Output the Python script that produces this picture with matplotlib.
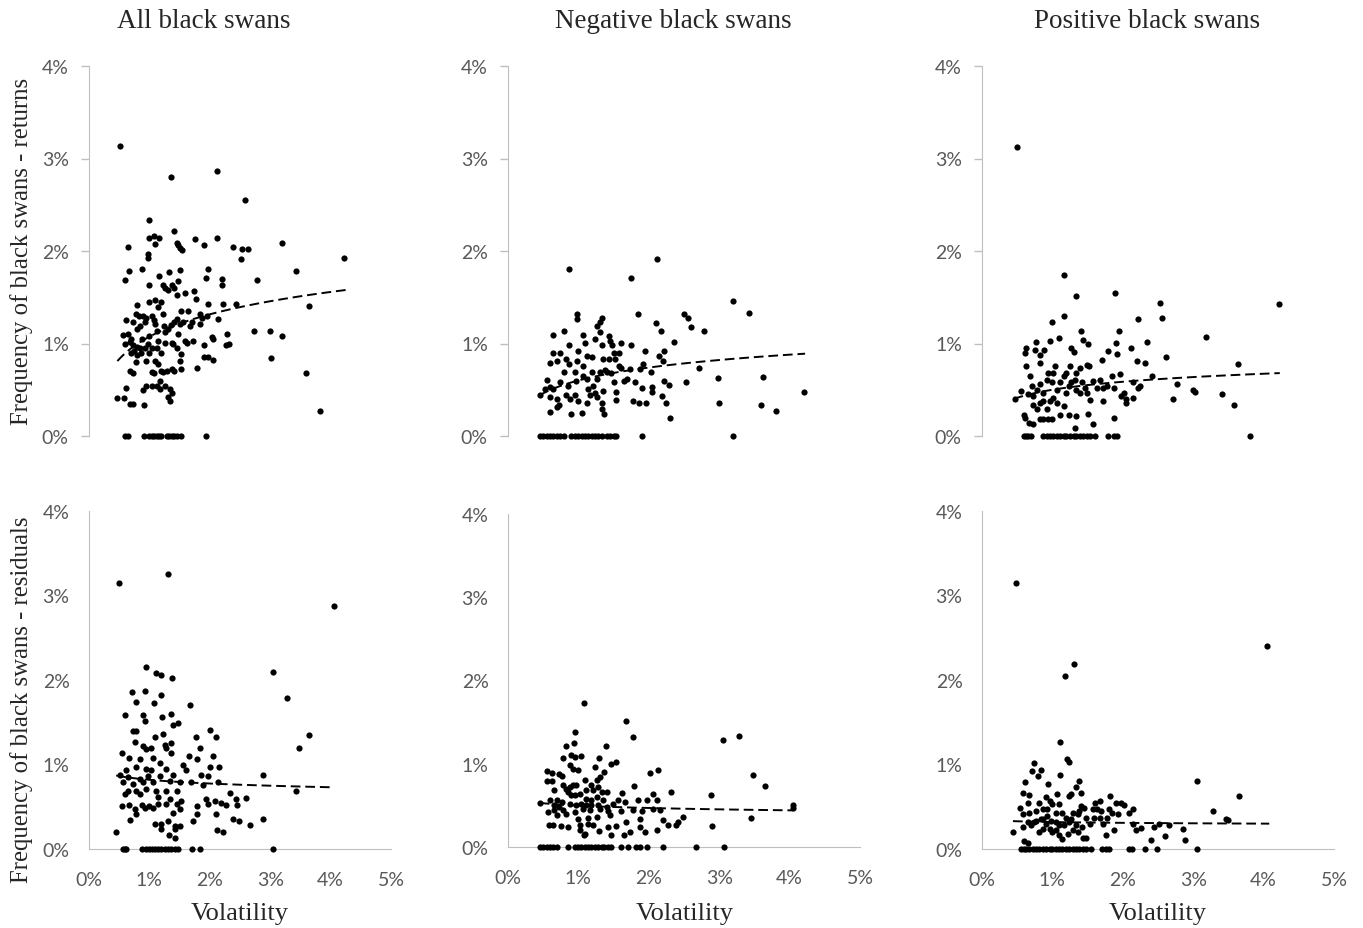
import numpy as np
import matplotlib
matplotlib.use("Agg")
import matplotlib.pyplot as plt
from matplotlib.ticker import FuncFormatter

# volatility (%) , frequency of black swans (%)
all_ret = [
    (0.52, 3.13), (1.36, 2.80), (2.12, 2.86), (2.59, 2.55), (0.99, 2.34), (0.64, 2.04), (0.99, 2.14),
    (1.08, 2.16), (1.16, 2.14), (1.10, 2.08), (1.41, 2.22), (1.45, 2.09), (1.48, 2.06), (1.51, 2.03),
    (1.54, 2.01), (1.75, 2.13), (1.91, 2.07), (2.12, 2.14), (2.38, 2.04), (2.54, 2.02), (2.63, 2.02),
    (2.51, 1.91), (3.20, 2.09), (4.23, 1.92), (3.43, 1.78), (2.78, 1.69), (3.64, 1.41), (2.73, 1.14),
    (3.00, 1.14), (3.20, 1.08), (3.02, 0.84), (3.60, 0.68), (3.82, 0.27),
    (0.66, 1.78), (0.60, 1.69), (0.87, 1.81), (0.98, 1.97), (0.98, 1.92), (0.79, 1.42), (0.61, 1.25),
    (0.56, 1.09), (0.60, 1.00), (0.70, 1.05), (0.73, 0.98), (0.79, 0.96), (0.84, 0.95), (0.68, 0.70),
    (0.73, 0.68), (0.61, 0.52), (0.47, 0.41), (0.58, 0.41), (0.68, 0.35), (0.73, 0.35), (0.91, 0.34),
    (0.90, 0.50), (0.95, 0.54), (1.04, 0.54), (1.12, 0.54), (1.17, 0.51), (1.26, 0.54), (1.34, 0.51),
    (1.37, 0.47), (1.31, 0.42), (1.34, 0.38),
    (0.99, 1.63), (1.16, 1.73), (1.23, 1.63), (1.26, 1.60), (1.31, 1.58), (1.38, 1.63), (1.40, 1.60),
    (1.33, 1.77), (1.51, 1.80), (1.48, 1.68), (1.46, 1.52), (1.59, 1.55), (1.74, 1.57), (1.77, 1.48),
    (1.93, 1.71), (1.97, 1.81), (1.97, 1.43), (2.20, 1.70), (2.21, 1.63), (2.22, 1.43), (2.43, 1.43),
    (2.14, 1.27), (2.03, 1.07), (2.05, 1.05), (2.29, 1.10), (2.27, 0.98), (2.31, 1.00), (1.97, 0.85),
    (1.90, 0.85), (2.06, 0.82), (1.78, 0.73), (1.59, 1.03), (1.62, 1.01), (1.73, 1.03), (1.90, 0.98),
    (1.53, 0.89), (1.51, 0.81), (1.52, 0.72), (1.37, 0.72), (1.40, 0.70), (1.20, 0.70), (1.23, 0.69),
    (1.09, 0.81), (1.14, 0.78), (1.04, 0.69), (0.95, 0.81),
    (1.15, 1.03), (1.26, 1.12), (1.26, 1.01), (1.37, 1.01), (1.39, 0.99), (1.09, 1.21), (1.12, 1.14),
    (1.04, 1.30), (1.07, 1.25), (0.90, 1.30), (0.95, 1.28), (0.93, 1.23), (1.23, 1.32), (1.24, 1.19),
    (1.31, 1.16), (1.40, 1.23), (1.45, 1.27), (1.53, 1.35), (1.64, 1.35), (1.51, 1.21), (1.56, 1.23),
    (1.67, 1.19), (1.70, 1.23), (1.84, 1.32), (1.87, 1.28), (1.84, 1.21), (1.95, 1.30), (0.77, 1.32),
    (0.82, 1.30), (0.73, 1.23), (0.79, 1.16), (0.84, 1.19),
    (0.65, 1.10), (0.68, 1.02), (0.75, 0.92), (0.80, 0.88), (0.86, 0.90), (0.92, 0.95), (0.97, 1.00),
    (1.00, 1.08), (0.88, 1.05), (0.70, 0.90), (0.77, 0.80), (1.00, 0.90), (1.05, 0.95), (1.12, 0.95),
    (1.20, 0.90), (1.18, 0.60), (1.08, 0.68), (1.29, 0.70), (1.45, 0.95), (1.48, 1.10), (1.35, 1.20),
    (1.20, 1.45), (1.15, 1.40), (1.10, 1.47), (1.00, 1.45),
    (0.60, 0), (0.64, 0), (0.91, 0), (0.99, 0), (1.04, 0), (1.08, 0), (1.12, 0), (1.16, 0), (1.20, 0),
    (1.29, 0), (1.32, 0), (1.37, 0), (1.41, 0), (1.45, 0), (1.53, 0), (1.93, 0),
]

neg_ret = [
    (0.87, 1.81), (1.75, 1.71), (2.11, 1.91), (3.19, 1.46), (3.42, 1.33), (1.84, 1.32), (2.50, 1.32),
    (2.56, 1.28), (2.60, 1.18), (2.78, 1.13), (2.10, 1.22), (2.18, 1.14), (2.36, 1.02), (2.22, 0.92),
    (2.14, 0.87), (2.20, 0.81), (1.95, 0.92), (1.92, 0.78), (1.75, 0.98), (2.03, 0.69), (2.22, 0.60),
    (2.28, 0.55), (2.53, 0.58), (2.71, 0.74), (2.98, 0.63), (3.00, 0.36), (3.62, 0.64), (3.59, 0.34),
    (3.80, 0.27), (4.21, 0.48), (2.30, 0.19), (2.24, 0.36), (2.19, 0.43), (2.05, 0.53), (2.05, 0.48),
    (1.90, 0.52), (1.96, 0.36), (1.86, 0.36), (1.78, 0.38), (1.69, 0.62), (1.65, 0.60), (1.81, 0.58),
    (1.61, 0.74), (1.73, 0.72), (1.88, 0.72),
    (0.64, 1.09), (0.79, 1.13), (0.59, 0.79), (0.64, 0.90), (0.69, 0.81), (0.56, 0.61), (0.60, 0.53),
    (0.64, 0.51), (0.59, 0.42), (0.69, 0.40), (0.69, 0.31), (0.60, 0.26), (0.73, 0.34), (0.74, 0.90),
    (0.82, 0.83), (0.86, 0.78), (0.79, 0.69), (0.85, 0.54), (0.83, 0.44), (0.88, 0.40), (0.90, 0.24),
    (0.98, 1.32), (0.98, 1.27), (0.87, 0.98), (1.00, 0.92), (0.98, 0.81), (0.95, 0.69), (0.97, 0.60),
    (0.95, 0.44), (1.00, 0.38), (1.05, 0.25), (1.12, 0.36), (1.07, 1.09), (1.09, 1.01), (1.12, 0.87),
    (1.07, 0.76), (1.06, 0.65), (1.12, 0.62), (1.13, 0.51), (1.19, 0.85), (1.19, 0.69), (1.21, 0.54),
    (1.24, 0.47), (1.26, 0.42), (1.24, 1.05), (1.27, 1.19), (1.31, 1.23), (1.34, 1.28), (1.31, 1.12),
    (1.33, 0.98), (1.35, 0.83), (1.38, 0.71), (1.35, 0.49), (1.34, 0.36), (1.33, 0.29), (1.36, 0.24),
    (1.43, 1.08), (1.45, 1.03), (1.48, 0.98), (1.51, 0.90), (1.52, 0.83), (1.57, 0.76), (1.61, 1.01),
    (1.58, 0.90), (1.50, 0.58), (1.53, 0.48), (1.53, 0.39), (1.40, 0.69), (1.43, 0.83), (1.47, 0.68),
    (0.74, 0.58), (0.45, 0.44), (0.53, 0.51), (1.31, 0.69), (1.26, 0.62), (1.16, 0.44),
    (0.45, 0), (0.50, 0), (0.56, 0), (0.60, 0), (0.64, 0), (0.69, 0), (0.74, 0), (0.79, 0), (0.90, 0),
    (0.95, 0), (1.00, 0), (1.05, 0), (1.09, 0), (1.14, 0), (1.19, 0), (1.24, 0), (1.28, 0), (1.33, 0),
    (1.40, 0), (1.45, 0), (1.50, 0), (1.54, 0), (1.91, 0), (3.19, 0),
]

pos_ret = [
    (0.50, 3.12), (1.16, 1.74), (1.34, 1.51), (1.16, 1.30), (0.99, 1.23), (1.89, 1.55), (2.53, 1.44),
    (2.56, 1.28), (2.21, 1.27), (4.22, 1.43), (3.18, 1.07), (3.63, 0.78), (2.61, 0.85), (2.35, 1.02),
    (1.95, 1.14), (1.90, 1.01), (1.92, 0.89), (1.79, 0.92), (1.70, 0.82), (2.11, 0.95), (2.20, 0.81),
    (2.31, 0.79), (1.41, 1.14), (1.43, 1.04), (1.51, 1.00), (1.10, 1.06), (0.97, 1.03), (0.77, 1.02),
    (0.63, 0.95), (0.61, 0.90), (0.75, 0.93), (0.88, 0.93), (0.82, 0.88), (0.83, 0.79), (0.62, 0.76),
    (1.04, 0.76), (1.26, 0.95), (1.30, 0.91), (1.25, 0.76), (1.39, 0.74), (1.34, 0.68), (1.49, 0.77),
    (1.52, 0.76), (2.72, 0.40), (2.77, 0.56), (3.00, 0.50), (3.02, 0.48), (3.41, 0.45), (3.58, 0.34),
    (2.41, 0.65), (2.24, 0.54), (2.14, 0.41), (2.05, 0.36), (2.04, 0.40), (1.98, 0.43), (1.87, 0.19),
    (1.72, 0.38), (1.53, 0.39), (1.58, 0.13), (1.51, 0.24), (1.32, 0.09), (1.34, 0.22), (1.24, 0.23),
    (0.47, 0.40), (0.55, 0.49), (0.59, 0.23), (0.61, 0.20), (0.67, 0.14), (0.73, 0.13), (0.78, 0.29),
    (0.82, 0.18), (0.87, 0.18), (0.94, 0.18), (1.00, 0.18), (0.92, 0.29), (1.16, 0.32), (1.11, 0.23),
    (0.68, 0.65), (0.71, 0.54), (0.66, 0.45), (0.73, 0.43), (0.78, 0.50), (0.82, 0.56), (0.87, 0.47),
    (0.92, 0.61), (0.94, 0.68), (1.01, 0.68), (0.99, 0.58), (1.06, 0.50), (1.11, 0.58), (1.16, 0.65),
    (1.20, 0.68), (1.23, 0.54), (1.27, 0.58), (1.32, 0.61), (1.34, 0.50), (1.42, 0.58), (1.46, 0.52),
    (1.58, 0.59), (1.63, 0.52), (1.68, 0.61), (1.77, 0.54), (1.84, 0.65), (1.96, 0.67), (2.01, 0.47),
    (2.15, 0.58), (2.22, 0.52), (0.82, 0.36), (0.87, 0.38), (0.97, 0.38), (1.01, 0.41), (1.06, 0.36),
    (0.73, 0.34), (1.20, 0.47), (1.39, 0.47), (1.49, 0.47), (1.72, 0.52), (1.87, 0.52),
    (0.59, 0), (0.63, 0), (0.66, 0), (0.70, 0), (0.87, 0), (0.92, 0), (0.97, 0), (1.01, 0), (1.06, 0),
    (1.11, 0), (1.16, 0), (1.20, 0), (1.25, 0), (1.30, 0), (1.34, 0), (1.39, 0), (1.44, 0), (1.49, 0),
    (1.53, 0), (1.61, 0), (1.79, 0), (1.87, 0), (1.92, 0), (3.80, 0),
]

all_res = [
    (0.50, 3.15), (1.30, 3.25), (4.05, 2.87), (3.05, 2.10), (3.28, 1.79), (3.65, 1.35), (3.48, 1.20),
    (3.43, 0.69), (2.88, 0.87), (2.88, 0.36), (0.94, 2.15), (1.11, 2.08), (1.19, 2.06), (1.37, 2.02),
    (0.71, 1.86), (0.92, 1.87), (1.20, 1.82), (0.78, 1.74), (1.08, 1.73), (1.67, 1.71), (0.59, 1.58),
    (0.89, 1.58), (0.92, 1.51), (1.21, 1.56), (1.35, 1.60), (1.39, 1.47), (1.47, 1.49), (0.73, 1.40),
    (0.78, 1.40), (1.10, 1.32), (1.23, 1.36), (1.25, 1.23), (1.36, 1.26), (2.01, 1.41), (1.77, 1.32),
    (2.11, 1.33), (0.76, 1.27), (0.54, 1.14), (0.89, 1.22), (0.95, 1.18), (1.03, 1.19), (1.28, 1.20),
    (1.35, 1.14), (1.84, 1.19), (1.66, 1.10), (1.78, 1.07), (2.05, 1.10), (0.67, 1.08), (0.84, 1.06),
    (1.06, 1.08), (1.17, 1.02), (1.55, 1.00), (2.01, 0.97), (2.15, 0.97), (0.61, 0.94), (0.78, 0.97),
    (0.95, 0.95), (1.03, 0.93), (1.28, 0.95), (1.61, 0.93), (1.86, 0.87), (1.97, 0.86), (0.51, 0.87),
    (0.65, 0.85), (0.84, 0.83), (0.98, 0.86), (1.17, 0.86), (1.39, 0.87), (0.56, 0.79), (0.73, 0.77),
    (0.89, 0.79), (1.06, 0.79), (1.34, 0.81), (1.50, 0.79), (1.69, 0.79), (2.14, 0.79), (0.65, 0.69),
    (0.78, 0.69), (0.95, 0.71), (1.11, 0.69), (1.28, 0.69), (1.45, 0.69), (1.88, 0.76), (2.33, 0.66),
    (0.59, 0.65), (0.84, 0.65), (1.14, 0.61), (1.34, 0.59), (1.53, 0.57), (1.94, 0.59), (2.08, 0.57),
    (2.43, 0.59), (2.60, 0.60), (0.55, 0.51), (0.67, 0.52), (0.87, 0.52), (1.00, 0.51), (1.14, 0.53),
    (1.28, 0.53), (1.45, 0.53), (1.78, 0.51), (1.97, 0.53), (2.19, 0.55), (2.27, 0.52), (2.45, 0.52),
    (0.92, 0.49), (1.06, 0.48), (1.39, 0.43), (1.51, 0.47), (0.76, 0.47), (0.78, 0.42), (1.78, 0.42),
    (2.11, 0.42), (0.68, 0.34), (1.09, 0.30), (1.20, 0.30), (1.31, 0.33), (1.72, 0.33), (2.38, 0.35),
    (2.49, 0.33), (2.66, 0.28), (1.43, 0.27), (1.50, 0.27), (1.20, 0.24), (1.43, 0.24), (2.12, 0.22),
    (2.22, 0.20), (0.45, 0.20), (1.32, 0.16), (1.43, 0.13),
    (0.56, 0), (0.59, 0), (0.62, 0), (0.87, 0), (0.95, 0), (1.00, 0), (1.05, 0), (1.09, 0), (1.14, 0),
    (1.20, 0), (1.25, 0), (1.31, 0), (1.36, 0), (1.42, 0), (1.47, 0), (1.71, 0), (1.83, 0), (3.05, 0),
]

neg_res = [
    (1.08, 1.73), (1.67, 1.51), (1.77, 1.32), (3.05, 1.29), (3.28, 1.33), (3.48, 0.86), (3.65, 0.73),
    (4.05, 0.50), (4.05, 0.47), (3.45, 0.35), (2.90, 0.25), (2.88, 0.63), (2.32, 0.66), (2.13, 0.93),
    (2.02, 0.89), (2.06, 0.64), (2.11, 0.56), (1.97, 0.57), (1.85, 0.57), (1.79, 0.73), (1.62, 0.65),
    (1.54, 1.02), (1.47, 1.00), (1.39, 1.21), (1.29, 1.07), (0.95, 1.38), (0.94, 1.25), (0.83, 1.21),
    (0.78, 1.07), (0.90, 1.10), (0.95, 1.08), (1.03, 1.09), (0.88, 0.98), (0.92, 0.94), (1.00, 0.92),
    (1.24, 0.96), (1.36, 0.90), (1.30, 0.84), (1.26, 0.80), (1.10, 0.81), (0.55, 0.91), (0.62, 0.89),
    (0.73, 0.88), (0.55, 0.79), (0.62, 0.79), (0.66, 0.68), (0.77, 0.85), (0.78, 0.74), (0.83, 0.70),
    (0.88, 0.72), (0.92, 0.75), (0.97, 0.74), (0.85, 0.66), (0.90, 0.62), (0.95, 0.62), (1.02, 0.64),
    (1.11, 0.68), (1.18, 0.74), (1.21, 0.68), (1.28, 0.72), (1.33, 0.66), (1.40, 0.66), (1.11, 0.58),
    (1.18, 0.56), (1.27, 0.60), (1.35, 0.56), (0.59, 0.56), (0.69, 0.56), (0.76, 0.54), (0.66, 0.50),
    (0.73, 0.48), (0.88, 0.52), (0.97, 0.50), (1.04, 0.52), (1.11, 0.51), (1.18, 0.50), (1.28, 0.50),
    (1.40, 0.48), (1.49, 0.52), (1.56, 0.56), (1.66, 0.54), (0.66, 0.45), (0.78, 0.44), (0.95, 0.42),
    (1.07, 0.46), (1.16, 0.45), (1.30, 0.46), (1.42, 0.43), (1.61, 0.43), (1.78, 0.44), (1.90, 0.43),
    (2.06, 0.46), (2.16, 0.44), (0.57, 0.42), (0.69, 0.38), (0.83, 0.40), (1.00, 0.34), (1.14, 0.35),
    (1.26, 0.36), (1.45, 0.39), (1.87, 0.34), (2.20, 0.32), (2.49, 0.36), (2.42, 0.30), (0.58, 0.27),
    (0.64, 0.26), (0.75, 0.25), (0.85, 0.24), (1.02, 0.26), (1.14, 0.28), (1.21, 0.26), (1.42, 0.24),
    (1.54, 0.25), (1.68, 0.30), (1.87, 0.24), (2.27, 0.27), (2.39, 0.26), (1.02, 0.20), (1.09, 0.16),
    (2.11, 0.21), (1.94, 0.18), (1.73, 0.18), (1.65, 0.15), (1.47, 0.14), (1.29, 0.19), (1.08, 0.14),
    (0.45, 0.53),
    (0.45, 0), (0.50, 0), (0.55, 0), (0.59, 0), (0.64, 0), (0.70, 0), (0.85, 0), (0.95, 0), (1.00, 0),
    (1.04, 0), (1.09, 0), (1.14, 0), (1.18, 0), (1.23, 0), (1.28, 0), (1.33, 0), (1.37, 0), (1.42, 0),
    (1.47, 0), (1.61, 0), (1.71, 0), (1.82, 0), (1.87, 0), (1.97, 0), (2.20, 0), (2.67, 0), (3.07, 0),
]

pos_res = [
    (0.49, 3.15), (4.05, 2.40), (1.30, 2.19), (1.18, 2.05), (1.11, 1.27), (1.21, 1.06), (1.23, 1.03),
    (0.74, 1.02), (0.71, 0.92), (0.84, 0.94), (0.79, 0.86), (1.11, 0.87), (0.61, 0.79), (0.94, 0.77),
    (1.38, 0.81), (3.05, 0.81), (3.65, 0.63), (3.28, 0.45), (3.49, 0.34), (2.86, 0.24), (2.89, 0.11),
    (2.60, 0.15), (2.40, 0.11), (2.45, 0.26), (2.26, 0.25), (2.19, 0.22), (2.14, 0.47), (2.09, 0.43),
    (1.97, 0.54), (2.01, 0.52), (1.82, 0.63), (1.80, 0.47), (1.85, 0.43), (1.93, 0.41), (1.88, 0.22),
    (1.76, 0.17), (1.78, 0.37), (1.67, 0.57), (1.61, 0.55), (1.64, 0.47), (1.69, 0.45), (1.59, 0.37),
    (1.72, 0.30), (1.40, 0.66), (1.33, 0.73), (1.26, 0.65), (1.24, 0.63), (1.40, 0.51), (1.45, 0.49),
    (1.38, 0.45), (1.36, 0.41), (1.48, 0.37), (1.54, 0.30), (1.42, 0.26), (1.44, 0.13), (1.48, 0.13),
    (0.58, 0.66), (0.67, 0.64), (0.65, 0.55), (0.54, 0.49), (0.58, 0.41), (0.67, 0.43), (0.77, 0.45),
    (0.81, 0.55), (0.86, 0.47), (0.91, 0.61), (0.96, 0.57), (0.93, 0.47), (1.00, 0.53), (1.05, 0.43),
    (1.10, 0.53), (1.07, 0.65), (1.14, 0.43), (1.19, 0.37), (1.29, 0.43), (1.26, 0.35), (0.44, 0.20),
    (0.58, 0.26), (0.65, 0.32), (0.70, 0.28), (0.74, 0.32), (0.81, 0.20), (0.86, 0.24), (0.91, 0.30),
    (0.96, 0.24), (1.00, 0.20), (1.05, 0.22), (1.10, 0.16), (1.14, 0.12), (1.22, 0.18), (1.29, 0.22),
    (1.36, 0.20), (0.77, 0.33), (0.84, 0.35), (0.98, 0.33), (1.05, 0.32), (1.10, 0.28), (1.17, 0.28),
    (1.24, 0.32), (1.33, 0.28), (0.59, 0.09), (0.65, 0.07), (0.86, 0.35), (0.93, 0.39), (1.57, 0.47),
    (1.67, 0.37), (1.90, 0.55), (2.14, 0.30), (2.52, 0.30), (2.66, 0.28), (3.46, 0.35),
    (0.55, 0), (0.59, 0), (0.62, 0), (0.67, 0), (0.72, 0), (0.77, 0), (0.81, 0), (0.86, 0), (0.91, 0),
    (0.96, 0), (1.00, 0), (1.05, 0), (1.10, 0), (1.14, 0), (1.19, 0), (1.24, 0), (1.29, 0), (1.33, 0),
    (1.38, 0), (1.43, 0), (1.48, 0), (1.55, 0), (1.71, 0), (1.76, 0), (1.81, 0), (2.09, 0), (2.13, 0),
    (2.32, 0), (2.49, 0), (3.06, 0),
]

# logarithmic trend lines: (x start, y start, x end, y end)
trend_ret = [(0.47, 0.81, 4.27, 1.58), (0.45, 0.44, 4.22, 0.89), (0.45, 0.40, 4.23, 0.68)]
trend_res = [(0.45, 0.87, 4.05, 0.73), (0.45, 0.53, 4.05, 0.44), (0.44, 0.33, 4.08, 0.30)]

titles = ["All black swans", "Negative black swans", "Positive black swans"]
y_labels = ["Frequency of black swans - returns", "Frequency of black swans - residuals"]
x_label = "Volatility"

W, H = 1363, 929
fig = plt.figure(figsize=(W / 100, H / 100), dpi=100)

# axes boxes in pixels: left, top, right, bottom
boxes = [
    [(89, 67, 391, 437), (508, 67, 860, 437), (982, 67, 1334, 437)],
    [(89, 512, 391, 850), (508, 515, 860, 848), (982, 512, 1334, 850)],
]
panels = [[all_ret, neg_ret, pos_ret], [all_res, neg_res, pos_res]]
trends = [trend_ret, trend_res]

tick_font = "Lato"
serif = "Liberation Serif"
grey = "#595959"
line_grey = "#BFBFBF"
pct = FuncFormatter(lambda v, p: "%d%%" % round(v))

for r in range(2):
    for c in range(3):
        l, t, rr, b = boxes[r][c]
        ax = fig.add_axes([l / W, 1 - b / H, (rr - l) / W, (b - t) / H])
        pts = np.array(panels[r][c])
        ax.scatter(pts[:, 0], pts[:, 1], s=20, color="black", linewidths=0,
                   clip_on=False, zorder=3)

        # y = y0 + k*ln(x/x0) through the read end points
        x0, y0, x1, y1 = trends[r][c]
        k = (y1 - y0) / np.log(x1 / x0)
        xs = np.linspace(x0, x1, 100)
        ax.plot(xs, y0 + k * np.log(xs / x0), color="black", lw=1.4,
                linestyle=(0, (5, 2.5)), zorder=4, clip_on=False)

        ax.set_xlim(0, 5)
        ax.set_ylim(0, 4)
        ax.set_yticks([0, 1, 2, 3, 4])
        ax.yaxis.set_major_formatter(pct)
        ax.spines["top"].set_visible(False)
        ax.spines["right"].set_visible(False)
        ax.spines["left"].set_color(line_grey)
        ax.spines["bottom"].set_color(line_grey)
        for lab in ax.get_yticklabels():
            lab.set_fontfamily(tick_font)
        if r == 0:
            ax.spines["bottom"].set_visible(False)
            ax.set_xticks([])
            ax.tick_params(axis="y", length=5.5, width=1, color=line_grey, pad=9,
                           labelsize=14, labelcolor=grey)
        else:
            ax.set_xticks([0, 1, 2, 3, 4, 5])
            ax.xaxis.set_major_formatter(pct)
            ax.tick_params(axis="y", length=0, pad=14, labelsize=14, labelcolor=grey)
            ax.tick_params(axis="x", length=0, pad=16, labelsize=14, labelcolor=grey)
            for lab in ax.get_xticklabels():
                lab.set_fontfamily(tick_font)

title_x = [204, 673, 1147]
xlab_x = [240, 685, 1158]
for c in range(3):
    fig.text(title_x[c] / W, 1 - 21 / H, titles[c], ha="center", va="center",
             fontsize=19.5, family=serif, color="#262626")
    fig.text(xlab_x[c] / W, 1 - 914 / H, x_label, ha="center", va="center",
             fontsize=19, family=serif, color="#262626")

fig.text(22 / W, 1 - 251 / H, y_labels[0], rotation=90, ha="center", va="center",
         fontsize=17.8, family=serif, color="#262626")
fig.text(22 / W, 1 - 700 / H, y_labels[1], rotation=90, ha="center", va="center",
         fontsize=17.8, family=serif, color="#262626")

fig.savefig("out.png", dpi=100, facecolor="white")
